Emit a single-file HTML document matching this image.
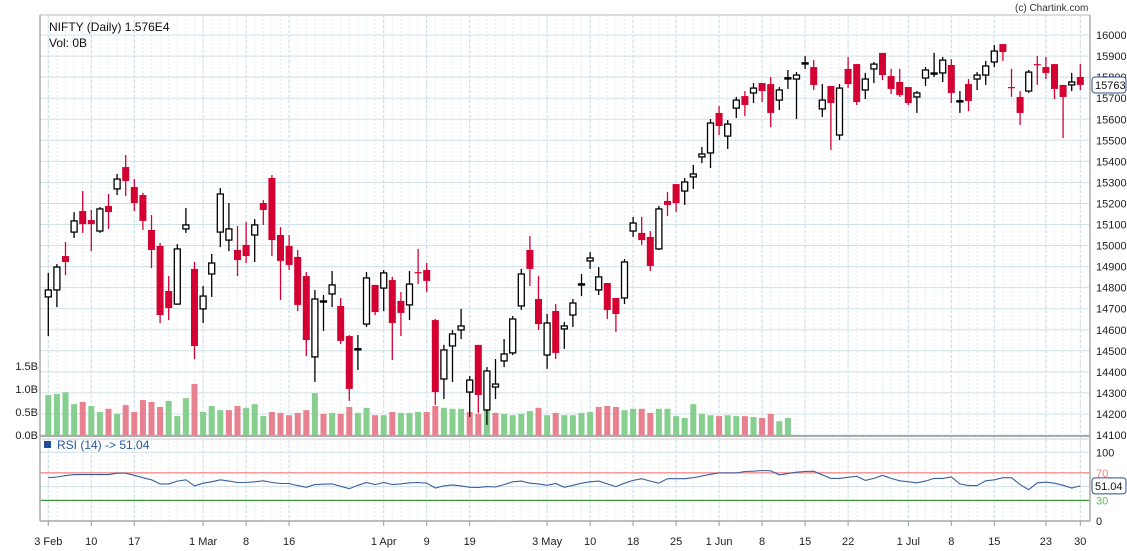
<!DOCTYPE html>
<html><head><meta charset="utf-8"><style>
html,body{margin:0;padding:0;background:#fff;}
svg{display:block;font-family:"Liberation Sans",sans-serif;}
</style></head><body>
<svg id="chart" width="1127" height="551" viewBox="0 0 1127 551" xmlns="http://www.w3.org/2000/svg">
<rect x="0" y="0" width="1127" height="551" fill="#fff"/>
<g id="grid"></g>
<g id="vol"></g>
<g id="candles"></g>
<g id="rsi"></g>
<g id="axes"></g>
<text x="1015" y="11" font-size="10" fill="#333">(c) Chartink.com</text>
<text x="49" y="31" font-size="12" fill="#111">NIFTY (Daily) 1.576E4</text>
<text x="49" y="47" font-size="12" fill="#111">Vol: 0B</text>
<rect x="44" y="441" width="7" height="7" fill="#1f4e9c"/>
<text x="57" y="449" font-size="12" fill="#2a56a0">RSI (14) -&gt; 51.04</text>
</svg>
<script>
const opens=[14756,14789,14950,15064,15164,15121,15069,15188,15269,15373,15278,15240,15074,14998,14784,14722,15079,14889,14699,14865,15064,15026,14979,15003,15050,15202,15321,15050,14998,14946,14855,14471,14732,14770,14713,14570,14509,14627,14813,14798,14836,14737,14718,14874,14884,14646,14366,14523,14599,14304,14528,14219,14328,14452,14490,14713,14979,14746,14480,14689,14604,14670,14817,14927,14789,14822,14751,14751,15069,15060,15041,14984,15212,15292,15259,15326,15421,15440,15630,15520,15653,15710,15725,15772,15767,15691,15796,15791,15867,15848,15649,15758,15525,15839,15862,15739,15839,15915,15805,15777,15753,15706,15796,15815,15820,15858,15687,15767,15791,15810,15872,15957,15753,15706,15734,15862,15848,15862,15763,15763,15801];
const highs=[14870,14912,15017,15159,15259,15169,15183,15245,15340,15430,15316,15250,15145,15012,14855,15007,15178,14922,14808,14960,15273,15202,15093,15112,15126,15216,15335,15088,15050,14979,14874,14789,14765,14879,14751,14575,14575,14874,14813,14884,14851,14779,14879,14984,14917,14651,14528,14599,14699,14380,14528,14423,14461,14556,14665,14889,15045,14855,14675,14722,14637,14746,14865,14969,14898,14822,14751,14936,15136,15136,15069,15188,15254,15292,15321,15383,15468,15601,15663,15596,15706,15734,15772,15772,15801,15753,15834,15824,15900,15881,15767,15758,15767,15896,15862,15820,15872,15915,15839,15839,15753,15734,15848,15915,15896,15886,15734,15791,15824,15877,15953,15957,15839,15734,15834,15900,15896,15862,15763,15820,15862];
const lows=[14570,14708,14860,15036,15060,14974,15060,15079,15240,15235,15164,15074,14893,14632,14646,14718,15060,14461,14632,14756,14993,14974,14855,14917,14922,15098,14950,14741,14884,14689,14475,14352,14594,14708,14532,14262,14409,14613,14670,14689,14456,14570,14646,14817,14779,14243,14271,14352,14556,14186,14205,14148,14271,14423,14480,14694,14808,14599,14414,14461,14509,14613,14760,14889,14765,14651,14589,14722,15041,15003,14879,14979,15140,15159,15193,15269,15392,15368,15525,15459,15606,15615,15677,15682,15563,15644,15744,15601,15839,15739,15611,15454,15501,15748,15668,15696,15772,15786,15720,15706,15668,15630,15758,15801,15777,15677,15630,15639,15739,15763,15848,15877,15706,15573,15725,15763,15791,15696,15511,15734,15739];
const closes=[14789,14898,14922,15117,15102,15102,15174,15159,15316,15307,15202,15117,14979,14670,14703,14984,15098,14523,14760,14917,15245,15079,14931,14950,15098,15169,15026,14927,14908,14718,14551,14746,14737,14813,14547,14319,14510,14846,14684,14870,14632,14680,14817,14870,14832,14304,14504,14580,14618,14361,14290,14404,14342,14485,14651,14865,14889,14627,14632,14490,14618,14727,14818,14941,14851,14694,14675,14922,15107,15026,14903,15174,15193,15202,15302,15340,15435,15582,15568,15577,15691,15668,15748,15734,15630,15739,15797,15810,15868,15763,15691,15677,15748,15767,15682,15791,15862,15810,15744,15715,15677,15725,15834,15820,15881,15725,15688,15687,15810,15853,15924,15919,15750,15630,15824,15858,15820,15744,15706,15777,15763];
const volumes=[0.87,0.89,0.93,0.67,0.72,0.63,0.50,0.57,0.46,0.65,0.50,0.76,0.72,0.61,0.74,0.41,0.80,1.11,0.50,0.63,0.54,0.54,0.63,0.59,0.67,0.41,0.50,0.48,0.43,0.48,0.54,0.91,0.46,0.48,0.46,0.61,0.48,0.59,0.43,0.43,0.50,0.48,0.48,0.50,0.50,0.63,0.59,0.57,0.57,0.50,0.46,0.54,0.48,0.46,0.43,0.46,0.52,0.59,0.43,0.48,0.43,0.43,0.48,0.50,0.61,0.63,0.61,0.54,0.57,0.57,0.48,0.57,0.57,0.41,0.37,0.67,0.46,0.43,0.41,0.43,0.41,0.41,0.39,0.37,0.46,0.30,0.37];
const rsiValues=[63,64,66,67.5,67.5,67.5,67.5,67.5,69.5,69.5,66.5,63,60,54,54,58,60,51,55,57,60,58,56,56,57,58.5,56,54.5,54.5,51.5,49,53,53.5,54,50.5,47,52,56,53,56,53,54,55.5,56,55,48,51,52.5,51,49,48.7,50,49.5,53,57,58,55,54,52,54.5,49,52,55,57,58,54,50,55,59,61.5,58,55,61.5,61.5,61.5,63,65.5,68,70,70,70,72,72.5,73.5,73,67,69,71,72,72.5,67,62,62,63.5,65,59,62,66.5,62,58.5,57,55.5,58,62,62,64,54,51.5,51.5,58.5,60,63,63,53,45.5,55.5,56.5,55,52,48,51.04];
const priceTicks=[14100,14200,14300,14400,14500,14600,14700,14800,14900,15000,15100,15200,15300,15400,15500,15600,15700,15800,15900,16000];
const volTicks=[0,0.5,1.0,1.5];
const volTickLabels=["0.0B","0.5B","1.0B","1.5B"];
const dateTickIdx=[0,5,10,18,23,28,39,44,49,58,63,68,73,78,83,88,93,100,105,110,116,120];
const dateTickLabels=["3 Feb","10","17","1 Mar","8","16","1 Apr","9","19","3 May","10","18","25","1 Jun","8","15","22","1 Jul","8","15","23","30"];
const rsiTicks=[0,30,70,100];

const NS="http://www.w3.org/2000/svg";
const X0=48.3, DX=8.6, L=40, R=1090;
function xOf(i){return X0+DX*i;}
function yP(p){return 435-(p-14100)*0.2105;}
function yV(v){return 435-v*46;}
function yR(r){return 521-r*0.6875;}
function mk(tag,attrs,parent){const e=document.createElementNS(NS,tag);for(const k in attrs)e.setAttribute(k,attrs[k]);parent.appendChild(e);return e;}
const grid=document.getElementById('grid'),vol=document.getElementById('vol'),cg=document.getElementById('candles'),rg=document.getElementById('rsi'),ax=document.getElementById('axes');

// grid
for(let i=0;i<opens.length;i++){
  const l=mk('line',{x1:xOf(i),x2:xOf(i),y1:15,y2:521,stroke:'#e4edf1','stroke-width':1,'stroke-dasharray':'2,2'},grid);
  
  
}
dateTickIdx.forEach(i=>{
  const l=mk('line',{x1:xOf(i),x2:xOf(i),y1:15,y2:521,stroke:'#c6dce6','stroke-width':1,'stroke-dasharray':'3,2'},grid);
  
  
});
priceTicks.forEach(p=>{
  const l=mk('line',{x1:L,x2:R,y1:yP(p),y2:yP(p),stroke:'#cfe1e9','stroke-width':1},grid);
  
  
  const t=mk('text',{x:1096,y:yP(p)+4,'font-size':11,fill:'#222'},ax);
  t.textContent=p;
  
  
});
[50,100].forEach(r=>{
  const l=mk('line',{x1:L,x2:R,y1:yR(r),y2:yR(r),stroke:'#cfe1e9','stroke-width':1},grid);
  
  
});

// volume
for(let i=0;i<volumes.length;i++){
  const up=i===0||closes[i]>=closes[i-1];
  const b=mk('rect',{x:xOf(i)-3,y:yV(volumes[i]),width:6,height:435-yV(volumes[i]),fill:up?'#86cf8e':'#e8818f'},vol);
  
  
}
volTicks.forEach((v,k)=>{
  const t=mk('text',{x:38,y:yV(v)+4,'font-size':11,fill:'#222','text-anchor':'end'},ax);
  t.textContent=volTickLabels[k];
  
  
});

// candles
for(let i=0;i<opens.length;i++){
  const up=closes[i]>=opens[i];
  const col=up?'#000':'#d40032';
  const x=xOf(i);
  const g=mk('g',{},cg);
  
  
  mk('line',{x1:x,x2:x,y1:yP(highs[i]),y2:yP(lows[i]),stroke:col,'stroke-width':1.3},g);
  const top=yP(Math.max(opens[i],closes[i])),bot=yP(Math.min(opens[i],closes[i]));
  const h=Math.max(bot-top,1.2);
  if(up) mk('rect',{x:x-3,y:top,width:6,height:h,fill:'#fff',stroke:'#000','stroke-width':1.3},g);
  else mk('rect',{x:x-3.5,y:top,width:7,height:h,fill:col},g);
}

// RSI
const r70=mk('line',{x1:L,x2:R,y1:yR(70),y2:yR(70),stroke:'#f08080','stroke-width':1.2},rg);


const r30=mk('line',{x1:L,x2:R,y1:yR(30),y2:yR(30),stroke:'#3a9a3a','stroke-width':1.2},rg);


const pts=rsiValues.map((v,i)=>xOf(i).toFixed(1)+','+yR(v).toFixed(1)).join(' ');
const rl=mk('polyline',{points:pts,fill:'none',stroke:'#3a5f9e','stroke-width':1.1},rg);


const rsiCols={0:'#222',30:'#5cb85c',70:'#f08080',100:'#222'};
rsiTicks.forEach(r=>{
  const t=mk('text',{x:1096,y:yR(r)+4,'font-size':11,fill:rsiCols[r]},ax);
  t.textContent=r;
  
  
});

// frame
const fr=[[L,15,L,521,'#aaa',1.5],[L,15,R,15,'#bbb',1],[R,15,R,521,'#aaa',1.5],[L,436,R,436,'#aaa',2],[L,521,R,521,'#aaa',1.5],[L,439,R,439,'#ccc',1]];
fr.forEach(f=>{
  const l=mk('line',{x1:f[0],y1:f[1],x2:f[2],y2:f[3],stroke:f[4],'stroke-width':f[5]},ax);
  
  
});
dateTickIdx.forEach((i,k)=>{
  mk('line',{x1:xOf(i),x2:xOf(i),y1:521,y2:526,stroke:'#999'},ax);
  const t=mk('text',{x:xOf(i),y:545,'font-size':11,fill:'#222','text-anchor':'middle'},ax);
  t.textContent=dateTickLabels[k];
  
  
});

// badges
function badge(y,txt,name){
  const g=mk('g',{},ax);
  
  
  mk('rect',{x:1092,y:y-8,width:34,height:16,rx:3,fill:'#fff',stroke:'#2a4f8a','stroke-width':1},g);
  const t=mk('text',{x:1095,y:y+4,'font-size':11,fill:'#111'},g);
  t.textContent=txt;
}
badge(yP(closes[closes.length-1]),String(closes[closes.length-1]),'last-price-badge');
badge(yR(rsiValues[rsiValues.length-1]),rsiValues[rsiValues.length-1].toFixed(2),'last-rsi-badge');
</script>
</body></html>
